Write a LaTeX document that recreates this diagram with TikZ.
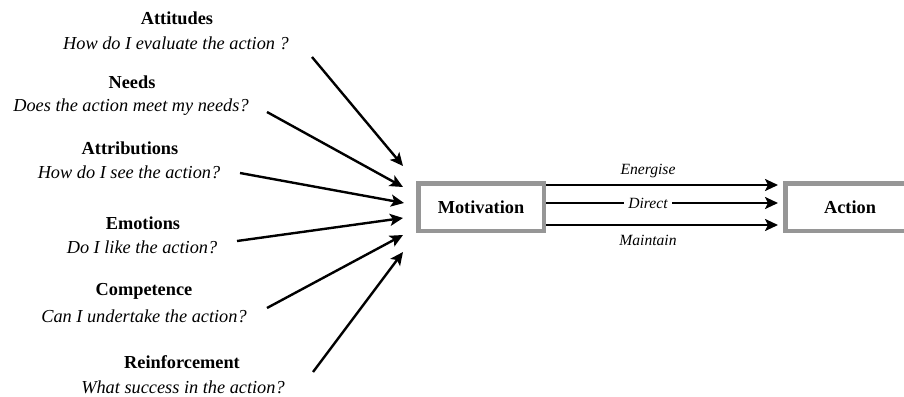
\documentclass[tikz,border=0pt]{standalone}
\usepackage{fontspec}
\setmainfont{Liberation Serif}
\usetikzlibrary{arrows.meta}
\definecolor{boxgray}{RGB}{150,150,150}
\begin{document}
\begin{tikzpicture}[x=1pt,y=-1pt,
  title/.style={font=\fontsize{18.3}{20}\selectfont\bfseries, inner sep=0pt, anchor=center},
  question/.style={font=\fontsize{18.3}{20}\selectfont\itshape, inner sep=0pt, anchor=center},
  flowlabel/.style={font=\fontsize{15.6}{18}\selectfont\itshape, inner sep=0pt, anchor=center},
  bigbox/.style={draw=boxgray, line width=4.5pt, minimum height=47.5pt, inner sep=0pt, font=\fontsize{18.3}{20}\selectfont\bfseries},
  arr/.style={line width=2.4pt, -{Stealth[length=13pt,width=12pt,inset=3pt]}}
]
\useasboundingbox (0,0) rectangle (904,396);

% factors
\node[title] (t1) at (177,18) {Attitudes};
\node[question] (q1) at (176,43) {How do I evaluate the action ?};
\node[title] (t2) at (132,82) {Needs};
\node[question] (q2) at (131,107) {Does the action meet my needs?};
\node[title] (t3) at (130,148) {Attributions};
\node[question] (q3) at (129,172) {How do I see the action?};
\node[title] (t4) at (143,223) {Emotions};
\node[question] (q4) at (142,247) {Do I like the action?};
\node[title] (t5) at (144,291) {Competence};
\node[question] (q5) at (144,316) {Can I undertake the action?};
\node[title] (t6) at (182,362) {Reinforcement};
\node[question] (q6) at (183,387) {What success in the action?};

% boxes
\node[bigbox, minimum width=125.5pt] (mot) at (481,207) {Motivation};
\node[bigbox, minimum width=129.5pt] (act) at (850,207) {Action};

% arrow start / end points
\coordinate (s1) at (312,57);
\coordinate (s2) at (267,112);
\coordinate (s3) at (240,173);
\coordinate (s4) at (237,241);
\coordinate (s5) at (267,308);
\coordinate (s6) at (313,372);
\coordinate (e1) at (403,166);
\coordinate (e2) at (403,187);
\coordinate (e3) at (404,203);
\coordinate (e4) at (403,218);
\coordinate (e5) at (403,235);
\coordinate (e6) at (403,252);

\draw[arr] (s1) -- (e1);
\draw[arr] (s2) -- (e2);
\draw[arr] (s3) -- (e3);
\draw[arr] (s4) -- (e4);
\draw[arr] (s5) -- (e5);
\draw[arr] (s6) -- (e6);

% motivation -> action
\coordinate (m1) at (546,185);
\coordinate (m2) at (546,203);
\coordinate (m3) at (546,225);
\coordinate (a1) at (778,185);
\coordinate (a2) at (778,203);
\coordinate (a3) at (778,225);
\draw[arr] (m1) -- (a1);
\draw[arr] (m3) -- (a3);
\draw[arr] (m2) -- (a2);
\node[flowlabel] (l1) at (648,171) {Energise};
\node[flowlabel, fill=white, inner xsep=4pt, inner ysep=2pt] (l2) at (648,203) {Direct};
\node[flowlabel] (l3) at (648,240) {Maintain};
\end{tikzpicture}
\end{document}
